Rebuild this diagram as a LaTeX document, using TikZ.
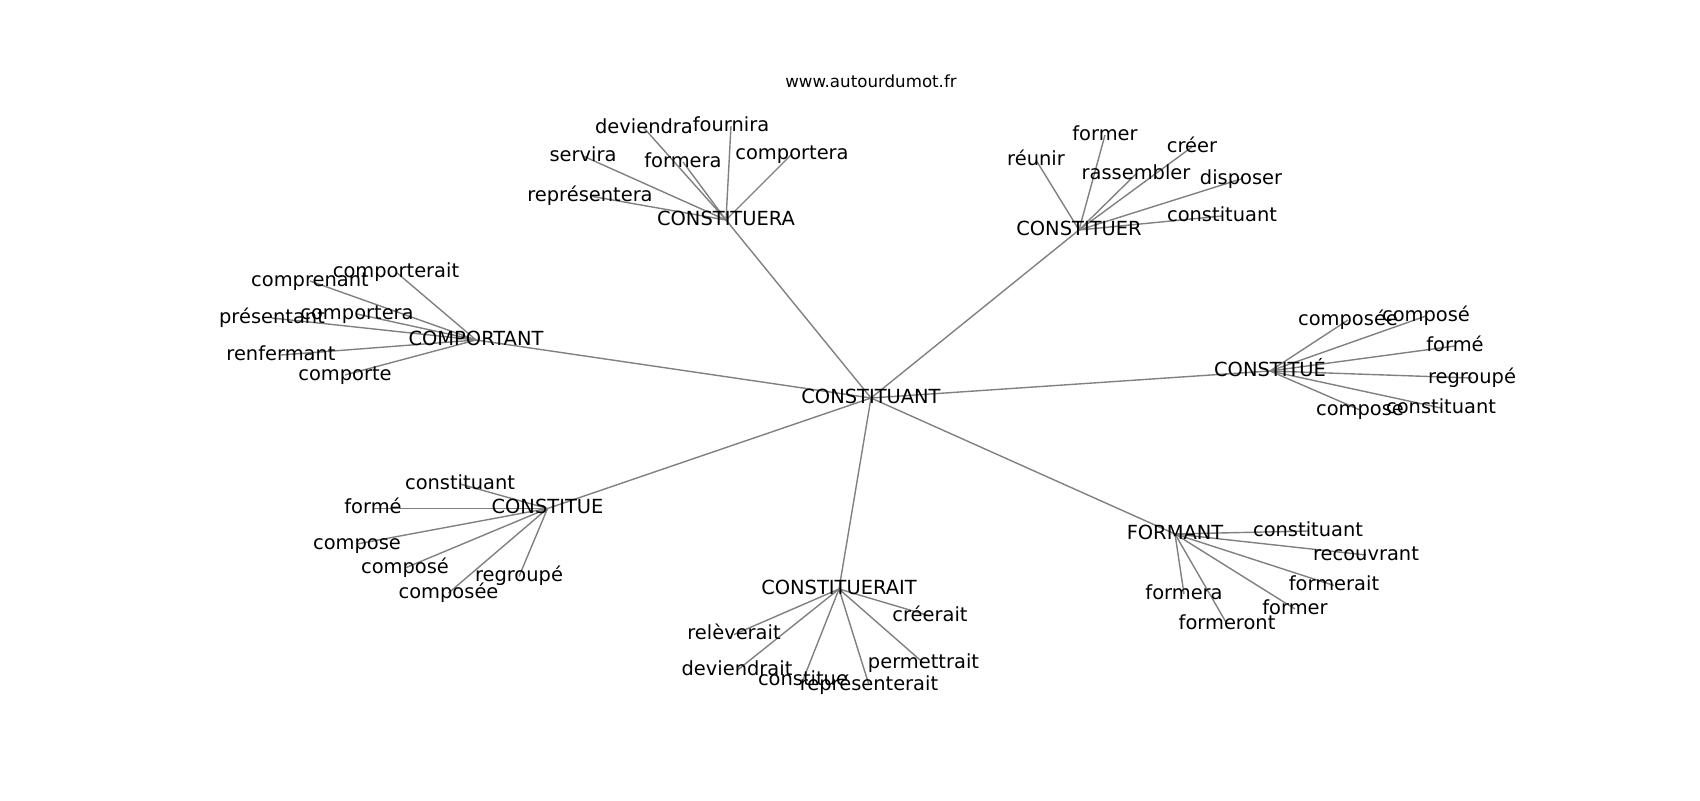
\documentclass[tikz,border=0pt]{standalone}
\usepackage{fontspec}
\setmainfont{DejaVu Sans}
\usetikzlibrary{backgrounds}
\tikzset{
  lbl/.style={inner sep=0pt, outer sep=0pt, anchor=center, text=black,
    font=\fontsize{14}{16}\selectfont, text height=10.64pt, text depth=3.36pt},
  ttl/.style={inner sep=0pt, outer sep=0pt, anchor=center, text=black,
    font=\fontsize{12}{14}\selectfont, text height=9.12pt, text depth=2.88pt},
  edge/.style={draw=black!50, line width=1pt}
}
\begin{document}
\begin{tikzpicture}[x=0.72pt, y=-0.72pt]
\useasboundingbox (0,0) rectangle (1700,800);
\node[ttl] (title) at (871,83.4) {www.autourdumot.fr};
% hubs
\node[lbl] (c) at (871,398) {CONSTITUANT};
\node[lbl] (ha) at (726,220) {CONSTITUERA};
\node[lbl] (hb) at (1079,230) {CONSTITUER};
\node[lbl] (hc) at (476,340) {COMPORTANT};
\node[lbl] (hd) at (1270,371) {CONSTITUÉ};
\node[lbl] (he) at (547.5,508.5) {CONSTITUE};
\node[lbl] (hf) at (1175,534) {FORMANT};
\node[lbl] (hg) at (839,589) {CONSTITUERAIT};
% CONSTITUERA leaves
\node[lbl] (a1) at (644,128) {deviendra};
\node[lbl] (a2) at (731,126) {fournira};
\node[lbl] (a3) at (583,156) {servira};
\node[lbl] (a4) at (683,162) {formera};
\node[lbl] (a5) at (792,154) {comportera};
\node[lbl] (a6) at (590,196) {représentera};
% CONSTITUER leaves
\node[lbl] (b1) at (1036,160) {réunir};
\node[lbl] (b2) at (1105,135) {former};
\node[lbl] (b3) at (1192,147) {créer};
\node[lbl] (b4) at (1136,174) {rassembler};
\node[lbl] (b5) at (1241,179) {disposer};
\node[lbl] (b6) at (1222,216) {constituant};
% COMPORTANT leaves
\node[lbl] (c1) at (396,272) {comporterait};
\node[lbl] (c2) at (310,281) {comprenant};
\node[lbl] (c3) at (272,318) {présentant};
\node[lbl] (c4) at (357,314) {comportera};
\node[lbl] (c5) at (281,355) {renfermant};
\node[lbl] (c6) at (345,375) {comporte};
% CONSTITUÉ leaves
\node[lbl] (d1) at (1348,320) {composée};
\node[lbl] (d2) at (1426,316) {composé};
\node[lbl] (d3) at (1455,346) {formé};
\node[lbl] (d4) at (1472,378) {regroupé};
\node[lbl] (d5) at (1360,410) {compose};
\node[lbl] (d6) at (1441,408) {constituant};
% CONSTITUE leaves
\node[lbl] (e1) at (460,484) {constituant};
\node[lbl] (e2) at (373,508.5) {formé};
\node[lbl] (e3) at (357,544) {compose};
\node[lbl] (e4) at (405,568) {composé};
\node[lbl] (e5) at (519,576.5) {regroupé};
\node[lbl] (e6) at (448.5,593) {composée};
% FORMANT leaves
\node[lbl] (f1) at (1308,531) {constituant};
\node[lbl] (f2) at (1366,555) {recouvrant};
\node[lbl] (f3) at (1334,585.5) {formerait};
\node[lbl] (f4) at (1295,609) {former};
\node[lbl] (f5) at (1184,594) {formera};
\node[lbl] (f6) at (1227,624) {formeront};
% CONSTITUERAIT leaves
\node[lbl] (g1) at (930,616) {créerait};
\node[lbl] (g2) at (734,634.5) {relèverait};
\node[lbl] (g3) at (923.5,663) {permettrait};
\node[lbl] (g4) at (737,670.5) {deviendrait};
\node[lbl] (g5) at (803,680) {constitue};
\node[lbl] (g6) at (869,685) {représenterait};
\begin{scope}[on background layer]
\fill[white] (0,0) rectangle (1700,800);
\foreach \h in {ha,hb,hc,hd,he,hf,hg}
  \draw[edge] (c.center) -- (\h.center);
\foreach \l in {a1,a2,a3,a4,a5,a6}
  \draw[edge] (ha.center) -- (\l.center);
\foreach \l in {b1,b2,b3,b4,b5,b6}
  \draw[edge] (hb.center) -- (\l.center);
\foreach \l in {c1,c2,c3,c4,c5,c6}
  \draw[edge] (hc.center) -- (\l.center);
\foreach \l in {d1,d2,d3,d4,d5,d6}
  \draw[edge] (hd.center) -- (\l.center);
\foreach \l in {e1,e2,e3,e4,e5,e6}
  \draw[edge] (he.center) -- (\l.center);
\foreach \l in {f1,f2,f3,f4,f5,f6}
  \draw[edge] (hf.center) -- (\l.center);
\foreach \l in {g1,g2,g3,g4,g5,g6}
  \draw[edge] (hg.center) -- (\l.center);
\end{scope}
\end{tikzpicture}
\end{document}
